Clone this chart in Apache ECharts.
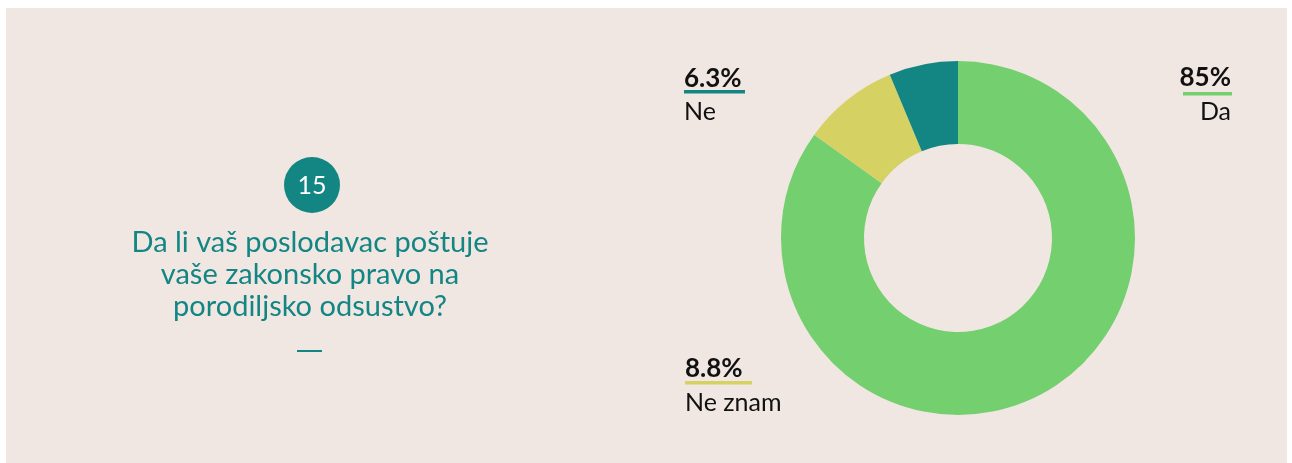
<!DOCTYPE html>
<html>
<head>
<meta charset="utf-8">
<script src="https://cdn.jsdelivr.net/npm/echarts@6/dist/echarts.min.js"></script>
<style>
  html, body { margin: 0; padding: 0; background: #ffffff; }
  #chart { width: 1292px; height: 463px; }
</style>
</head>
<body>
<div id="chart"></div>
<script>
// answers, clockwise from 12 o'clock
const answers = ['Da', 'Ne znam', 'Ne'];
const shares = [85, 8.8, 6.3];
const shareLabels = ['85%', '8.8%', '6.3%'];
const sliceColors = ['#74cf6e', '#d5d162', '#138684'];

const questionNumber = '15';
const questionLines = ['Da li vaš poslodavac poštuje', 'vaše zakonsko pravo na', 'porodiljsko odsustvo?'];

const teal = '#138684';
const panelBg = '#f0e7e2';

// where each answer's callout sits (value line, underline, name line)
const callouts = [
  { x: 1231, align: 'right', valueY: 78, barY: 92, barX: 1183, barW: 49, nameY: 112 },
  { x: 685, align: 'left', valueY: 369, barY: 381, barX: 685, barW: 67, nameY: 403 },
  { x: 684, align: 'left', valueY: 79, barY: 90, barX: 684, barW: 61, nameY: 112 }
];

const chart = echarts.init(document.getElementById('chart'));

const calloutGraphics = [];
answers.forEach((name, i) => {
  const c = callouts[i];
  calloutGraphics.push(
    {
      type: 'text',
      style: {
        text: shareLabels[i], x: c.x, y: c.valueY,
        font: 'bold 26px Lato', fill: '#111111',
        align: c.align, verticalAlign: 'middle'
      }
    },
    {
      type: 'rect',
      shape: { x: c.barX, y: c.barY, width: c.barW, height: 3.5 },
      style: { fill: sliceColors[i] }
    },
    {
      type: 'text',
      style: {
        text: name, x: c.x, y: c.nameY,
        font: '25px Lato', fill: '#111111',
        align: c.align, verticalAlign: 'middle'
      }
    }
  );
});

const option = {
  backgroundColor: '#ffffff',
  animation: false,
  graphic: [
    {
      type: 'rect', z: -10,
      shape: { x: 6, y: 8, width: 1281, height: 460 },
      style: { fill: panelBg }
    },
    {
      type: 'circle',
      shape: { cx: 312, cy: 185, r: 28 },
      style: { fill: teal }
    },
    {
      type: 'text',
      style: {
        text: questionNumber, x: 312, y: 186,
        font: '25px Lato', fill: '#ffffff',
        align: 'center', verticalAlign: 'middle'
      }
    },
    {
      type: 'text',
      style: {
        text: questionLines.join('\n'), x: 310, y: 227,
        font: '29px Lato', fill: teal, lineHeight: 32,
        align: 'center', verticalAlign: 'top'
      }
    },
    {
      type: 'rect',
      shape: { x: 297, y: 350, width: 25, height: 2 },
      style: { fill: teal }
    },
    ...calloutGraphics
  ],
  series: [
    {
      type: 'pie',
      center: [958, 238],
      radius: [94, 177],
      startAngle: 90,
      clockwise: true,
      label: { show: false },
      labelLine: { show: false },
      emphasis: { disabled: true },
      itemStyle: { borderWidth: 0 },
      data: answers.map((name, i) => ({
        name: name,
        value: shares[i],
        itemStyle: { color: sliceColors[i] }
      }))
    }
  ]
};

chart.setOption(option);
</script>
</body>
</html>
